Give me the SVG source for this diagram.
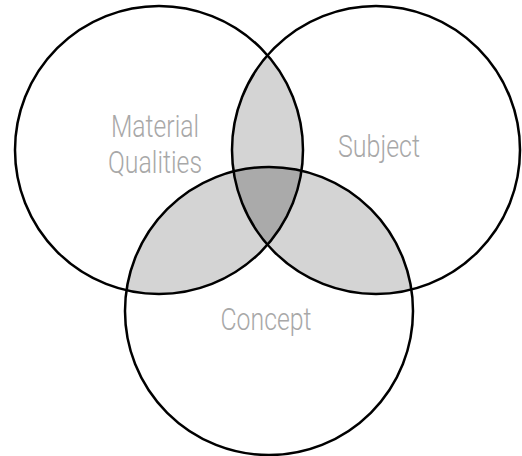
<svg xmlns="http://www.w3.org/2000/svg" width="522" height="456" viewBox="0 0 522 456">
<style>
.ring{fill:none;stroke:#000;stroke-width:2.5}
.lbl{font-family:Roboto,"DejaVu Sans Condensed","Liberation Sans",sans-serif;font-weight:300;font-size:32px;fill:#a8a8a8;text-anchor:middle}
.pair{fill:#d4d4d4}
.tri{fill:#aaaaaa}
</style>
<defs>
<circle id="c1" cx="159" cy="150" r="144"/>
<circle id="c2" cx="376" cy="150" r="144"/>
<circle id="c3" cx="269" cy="311" r="144"/>
<clipPath id="k1"><use href="#c1"/></clipPath>
<clipPath id="k2"><use href="#c2"/></clipPath>
<clipPath id="k3"><use href="#c3"/></clipPath>
</defs>
<rect width="522" height="456" fill="#fff"/>
<g id="overlaps">
<g clip-path="url(#k1)"><use href="#c2" class="pair"/><use href="#c3" class="pair"/></g>
<g clip-path="url(#k2)"><use href="#c3" class="pair"/></g>
<g clip-path="url(#k1)"><g clip-path="url(#k2)"><use href="#c3" class="tri"/></g></g>
</g>
<g id="material">
<use href="#c1" class="ring"/>
<text class="lbl" x="155" y="137" textLength="88" lengthAdjust="spacingAndGlyphs">Material</text>
<text class="lbl" x="155" y="173" textLength="94" lengthAdjust="spacingAndGlyphs">Qualities</text>
</g>
<g id="subject">
<use href="#c2" class="ring"/>
<text class="lbl" x="379" y="157" textLength="82" lengthAdjust="spacingAndGlyphs">Subject</text>
</g>
<g id="concept">
<use href="#c3" class="ring"/>
<text class="lbl" x="266" y="330" textLength="91" lengthAdjust="spacingAndGlyphs">Concept</text>
</g>
<g id="connectors"/>
</svg>
